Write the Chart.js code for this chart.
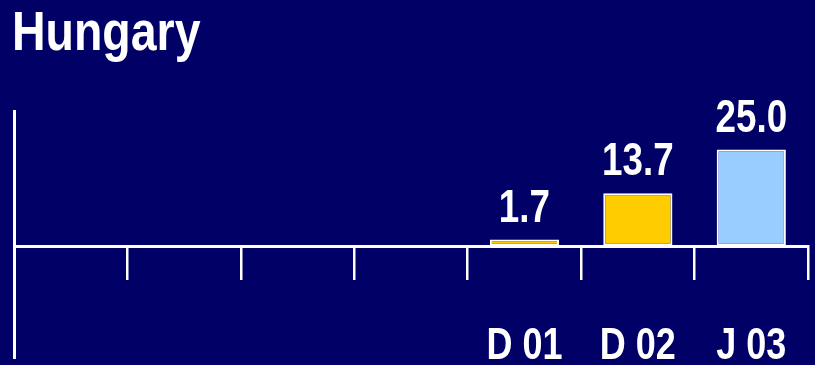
<!DOCTYPE html>
<html lang="en">
<head>
    <meta charset="UTF-8">
    <title>Hungary</title>
    <script src="https://cdn.jsdelivr.net/npm/chart.js"></script>
    <style>
        html, body {
            margin: 0;
            padding: 0;
            background: #000066;
            overflow: hidden;
        }
        .chart-box {
            position: relative;
            width: 815px;
            height: 365px;
        }
    </style>
</head>
<body>
    <div class="chart-box">
        <canvas id="hungaryChart"></canvas>
    </div>

    <script>
        // periods along the bottom, first four are empty slots
        const periods = ['', '', '', '', 'D 01', 'D 02', 'J 03'];
        const values = [null, null, null, null, 1.7, 13.7, 25.0];
        const barColors = ['#ffcc00', '#ffcc00', '#ffcc00', '#ffcc00', '#ffcc00', '#ffcc00', '#99ccff'];

        const FONT = '"Liberation Sans", Arial, Helvetica, sans-serif';

        // text in the deck is narrow, so squeeze it sideways when drawing
        function squeezedText(ctx, text, x, y, size, squeeze, align) {
            ctx.save();
            ctx.translate(x, y);
            ctx.scale(squeeze, 1);
            ctx.font = 'bold ' + size + 'px ' + FONT;
            ctx.fillStyle = '#ffffff';
            ctx.textAlign = align;
            ctx.textBaseline = 'alphabetic';
            ctx.fillText(text, 0, 0);
            ctx.restore();
        }

        const labelsPlugin = {
            id: 'squeezedLabels',
            afterDraw(chart) {
                const ctx = chart.ctx;
                const xScale = chart.scales.x;

                // title
                squeezedText(ctx, 'Hungary', 12, 50, 56, 0.83, 'left');

                // period names under the axis
                periods.forEach((p, i) => {
                    if (!p) return;
                    squeezedText(ctx, p, xScale.getPixelForValue(i), 359, 45, 0.8, 'center');
                });

                // values above bars
                const meta = chart.getDatasetMeta(0);
                meta.data.forEach((bar, i) => {
                    if (values[i] == null) return;
                    squeezedText(ctx, values[i].toFixed(1), bar.x, bar.y - 18, 46, 0.8, 'center');
                });
            }
        };

        const ctx = document.getElementById('hungaryChart').getContext('2d');
        new Chart(ctx, {
            type: 'bar',
            data: {
                labels: periods,
                datasets: [{
                    data: values,
                    backgroundColor: barColors,
                    borderColor: '#ffffff',
                    borderWidth: 2,
                    borderSkipped: false,
                    barPercentage: 0.61,
                    categoryPercentage: 1
                }]
            },
            options: {
                responsive: true,
                maintainAspectRatio: false,
                animation: false,
                layout: {
                    padding: { top: 111, left: 14, right: 7, bottom: 7 }
                },
                plugins: {
                    legend: { display: false },
                    tooltip: { enabled: false }
                },
                scales: {
                    x: {
                        position: { y: 0 },
                        grid: {
                            display: true,
                            offset: true,
                            drawOnChartArea: false,
                            drawTicks: true,
                            tickLength: 32,
                            color: '#ffffff',
                            lineWidth: 2.5
                        },
                        border: { display: true, color: '#ffffff', width: 3 },
                        ticks: { display: false }
                    },
                    y: {
                        min: -29,
                        max: 35,
                        grid: { display: true, drawOnChartArea: false, drawTicks: false },
                        border: { display: true, color: '#ffffff', width: 3 },
                        ticks: { display: false }
                    }
                }
            },
            plugins: [labelsPlugin]
        });
    </script>
</body>
</html>
